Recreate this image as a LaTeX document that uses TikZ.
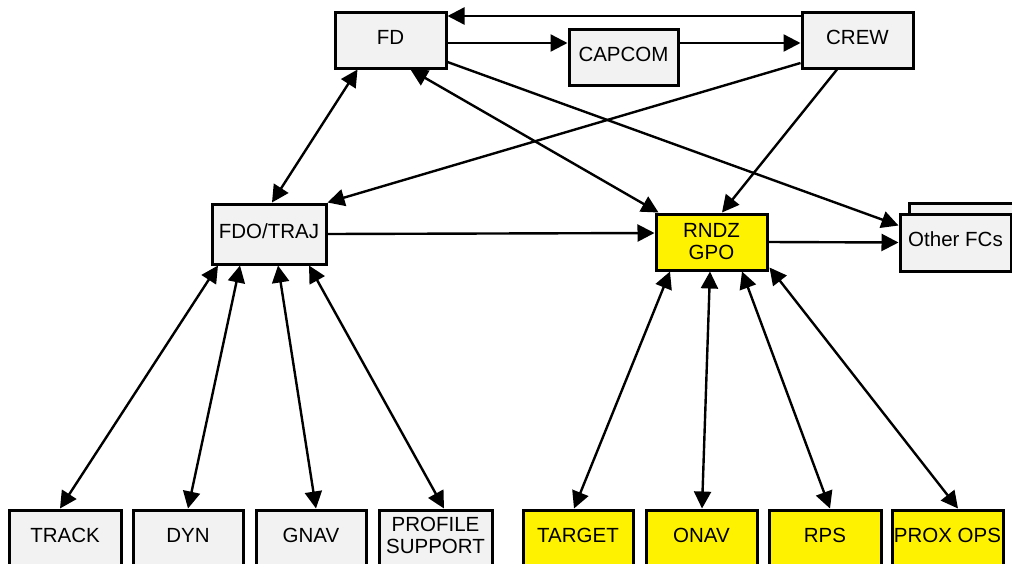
\documentclass[tikz,border=0pt]{standalone}
\usepackage{fontspec}
\setmainfont{Liberation Sans}
\usetikzlibrary{arrows.meta,calc}
\tikzset{
  box/.style={draw=black, line width=3pt, fill=boxgray, inner sep=0pt, align=center,
    text depth=6pt, font=\fontsize{20.5}{22}\selectfont},
  ybox/.style={box, fill=yellow},
  tip/.tip={Triangle[length=17pt,width=17pt]},
  arr/.style={line width=2.4pt, -tip},
  darr/.style={line width=2.4pt, tip-tip}
}
\definecolor{boxgray}{HTML}{F2F2F2}
\begin{document}
\begin{tikzpicture}[x=1pt,y=-1pt]
\useasboundingbox (0,0) rectangle (1012,563);
\clip (0,0) rectangle (1012,563);
% top row
\node[box, minimum width=111pt, minimum height=56pt] (fd) at (390.5,40) {FD};
\node[box, minimum width=109pt, minimum height=56pt] (capcom) at (623.5,57) {CAPCOM};
\node[box, minimum width=111pt, minimum height=56pt] (crew) at (857.5,40) {CREW};
% middle row
\node[box, minimum width=114pt, minimum height=60pt] (fdo) at (269,234) {FDO/TRAJ};
\node[ybox, minimum width=111pt, minimum height=56pt, text depth=2pt] (rndz) at (711.5,242) {RNDZ\\GPO};
\node[box, minimum width=111pt, minimum height=57pt] (otherback) at (964.5,231.5) {};
\node[box, minimum width=111pt, minimum height=57pt] (other) at (955.5,242.5) {Other FCs};
% bottom row
\node[box, minimum width=112pt, minimum height=60pt, text depth=10pt] (track) at (65,540) {TRACK};
\node[box, minimum width=110pt, minimum height=60pt, text depth=10pt] (dyn) at (188,540) {DYN};
\node[box, minimum width=110pt, minimum height=60pt, text depth=10pt] (gnav) at (311,540) {GNAV};
\node[box, minimum width=113pt, minimum height=60pt, text depth=10pt] (profile) at (435.5,540) {PROFILE\\SUPPORT};
\node[ybox, minimum width=110pt, minimum height=60pt, text depth=10pt] (target) at (578,540) {TARGET};
\node[ybox, minimum width=111pt, minimum height=60pt, text depth=10pt] (onav) at (701.5,540) {ONAV};
\node[ybox, minimum width=112pt, minimum height=60pt, text depth=10pt] (rps) at (825,540) {RPS};
\node[ybox, minimum width=111pt, minimum height=60pt, text depth=10pt] (prox) at (947.5,540) {PROX OPS};
% top connectors
\draw[arr] ($(crew.west)+(0,-24)$) -- ($(fd.east)+(0,-24)$);
\draw[arr] ($(fd.east)+(0,3)$) -- ($(capcom.west)+(0,-14)$);
\draw[arr] ($(capcom.east)+(0,-14)$) -- ($(crew.west)+(0,3)$);
\draw[arr] ($(fd.east)+(0,22)$) -- ($(other.west)+(0,-17)$);
\draw[arr] ($(crew.west)+(0,23)$) -- (fdo.north east);
\draw[arr] ($(crew.south)+(-20.5,0)$) -- ($(rndz.north)+(10.5,0)$);
\draw[darr] ($(fd.south)+(-33,0)$) -- ($(fdo.north)+(3,0)$);
\draw[darr] ($(fd.south)+(20,0)$) -- ($(rndz.north west)+(4,0)$);
% middle connectors
\draw[arr] (fdo.east) -- ($(rndz.west)+(0,-9)$);
\draw[arr] (rndz.east) -- (other.west);
% bottom connectors
\draw[darr] ($(fdo.south)+(-51,0)$) -- ($(track.north)+(-5,0)$);
\draw[darr] ($(fdo.south)+(-29,0)$) -- (dyn.north);
\draw[darr] ($(fdo.south)+(9,0)$) -- ($(gnav.north)+(5,0)$);
\draw[darr] ($(fdo.south)+(40,0)$) -- ($(profile.north)+(8.5,0)$);
\draw[darr] ($(rndz.south)+(-41.5,0)$) -- ($(target.north)+(-4,0)$);
\draw[darr] ($(rndz.south)+(-1.5,0)$) -- ($(onav.north)+(0.5,0)$);
\draw[darr] ($(rndz.south)+(30.5,0)$) -- ($(rps.north)+(5,0)$);
\draw[darr] ($(rndz.south east)+(1,-4)$) -- ($(prox.north)+(10.5,0)$);
\end{tikzpicture}
\end{document}
